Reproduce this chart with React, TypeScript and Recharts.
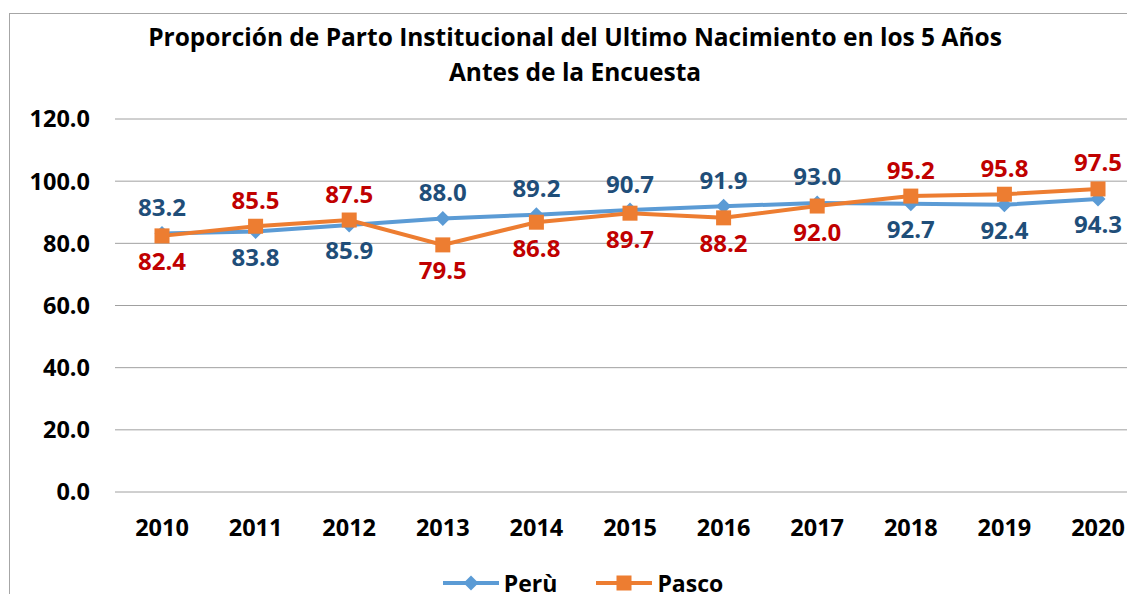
import React from 'react';
import { LineChart, Line, XAxis, YAxis, CartesianGrid, Legend, LabelList } from 'recharts';

const years = ['2010', '2011', '2012', '2013', '2014', '2015', '2016', '2017', '2018', '2019', '2020'];
const peru = [83.2, 83.8, 85.9, 88.0, 89.2, 90.7, 91.9, 93.0, 92.7, 92.4, 94.3];
const pasco = [82.4, 85.5, 87.5, 79.5, 86.8, 89.7, 88.2, 92.0, 95.2, 95.8, 97.5];
const yTicks = [0, 20, 40, 60, 80, 100, 120];

const data = years.map((year, i) => ({ year, peru: peru[i], pasco: pasco[i] }));

const font = '"Open Sans", "Liberation Sans", sans-serif';

const colors = {
    peruLine: '#5b9bd5',
    pascoLine: '#ed7d31',
    peruText: '#1f4e79',
    pascoText: '#c00000',
    grid: '#a0a0a0',
    frame: '#a6a6a6',
};

// higher of the two series gets its label above the marker
const makeLabel = (own: number[], other: number[], color: string) => (props: any) => {
    const { x, y, value } = props;
    let index = props.index;
    if (index == null) index = own.indexOf(Number(value));
    const above = own[index] >= other[index];
    return (
        <text
            x={x}
            y={above ? y - 27 : y + 25}
            textAnchor="middle"
            dominantBaseline="central"
            fill={color}
            fontSize={24}
            fontWeight={700}
            fontFamily={font}
        >
            {Number(value).toFixed(1)}
        </text>
    );
};

const Diamond = (props: any) => {
    const { cx, cy, index } = props;
    const r = 7.5;
    return (
        <polygon
            key={`d-${index}`}
            points={`${cx},${cy - r} ${cx + r},${cy} ${cx},${cy + r} ${cx - r},${cy}`}
            fill={colors.peruLine}
        />
    );
};

const Square = (props: any) => {
    const { cx, cy, index } = props;
    const s = 15;
    return <rect key={`s-${index}`} x={cx - s / 2} y={cy - s / 2} width={s} height={s} fill={colors.pascoLine} />;
};

const LegendContent = () => {
    const items = [
        { name: 'Perù', color: colors.peruLine, shape: 'diamond' },
        { name: 'Pasco', color: colors.pascoLine, shape: 'square' },
    ];
    return (
        <div style={{ display: 'flex', justifyContent: 'center', alignItems: 'center', gap: 39 }}>
            {items.map((it) => (
                <div key={it.name} style={{ display: 'flex', alignItems: 'center' }}>
                    <svg width={56} height={20} style={{ marginRight: 5 }}>
                        <line x1={0} y1={10} x2={56} y2={10} stroke={it.color} strokeWidth={4} />
                        {it.shape === 'diamond' ? (
                            <polygon points="28,2.5 35.5,10 28,17.5 20.5,10" fill={it.color} />
                        ) : (
                            <rect x={20.5} y={2.5} width={15} height={15} fill={it.color} />
                        )}
                    </svg>
                    <span style={{ fontFamily: font, fontWeight: 700, fontSize: 23, color: '#000', lineHeight: '22px' }}>
                        {it.name}
                    </span>
                </div>
            ))}
        </div>
    );
};

export default function App() {
    return (
        <div style={{ position: 'relative', width: 1127, height: 586, overflow: 'hidden', fontFamily: font }}>
            <div
                style={{
                    position: 'absolute',
                    left: 1,
                    top: 5,
                    width: 2000,
                    height: 2000,
                    borderLeft: `1.5px solid ${colors.frame}`,
                    borderTop: `1.5px solid ${colors.frame}`,
                }}
            />
            <div
                style={{
                    position: 'absolute',
                    left: 0,
                    top: 11,
                    width: 1134,
                    textAlign: 'center',
                    fontWeight: 700,
                    fontSize: 24.5,
                    lineHeight: '35px',
                    color: '#000',
                }}
            >
                Proporción de Parto Institucional del Ultimo Nacimiento en los 5 Años
                <br />
                Antes de la Encuesta
            </div>
            <LineChart width={1140} height={586} data={data} margin={{ top: 111, right: 3, left: 0, bottom: 42 }}>
                <CartesianGrid stroke={colors.grid} vertical={false} />
                <XAxis
                    dataKey="year"
                    axisLine={false}
                    tickLine={false}
                    tickSize={0}
                    tickMargin={27}
                    height={60}
                    padding={{ left: 47, right: 47 }}
                    tick={{ fill: '#000', fontSize: 23.5, fontWeight: 700, fontFamily: font }}
                />
                <YAxis
                    domain={[0, 120]}
                    ticks={yTicks}
                    width={107}
                    axisLine={false}
                    tickLine={false}
                    tickSize={0}
                    tickMargin={25}
                    tickFormatter={(v) => Number(v).toFixed(1)}
                    tick={{ fill: '#000', fontSize: 23.5, fontWeight: 700, fontFamily: font }}
                />
                <Legend
                    layout="horizontal"
                    verticalAlign="middle"
                    align="center"
                    content={<LegendContent />}
                    wrapperStyle={{ top: 564, left: 0, width: 1150 }}
                />
                <Line
                    dataKey="peru"
                    name="Perù"
                    stroke={colors.peruLine}
                    strokeWidth={4}
                    dot={Diamond}
                    activeDot={false}
                    isAnimationActive={false}
                >
                    <LabelList dataKey="peru" content={makeLabel(peru, pasco, colors.peruText)} />
                </Line>
                <Line
                    dataKey="pasco"
                    name="Pasco"
                    stroke={colors.pascoLine}
                    strokeWidth={4}
                    dot={Square}
                    activeDot={false}
                    isAnimationActive={false}
                >
                    <LabelList dataKey="pasco" content={makeLabel(pasco, peru, colors.pascoText)} />
                </Line>
            </LineChart>
        </div>
    );
}
